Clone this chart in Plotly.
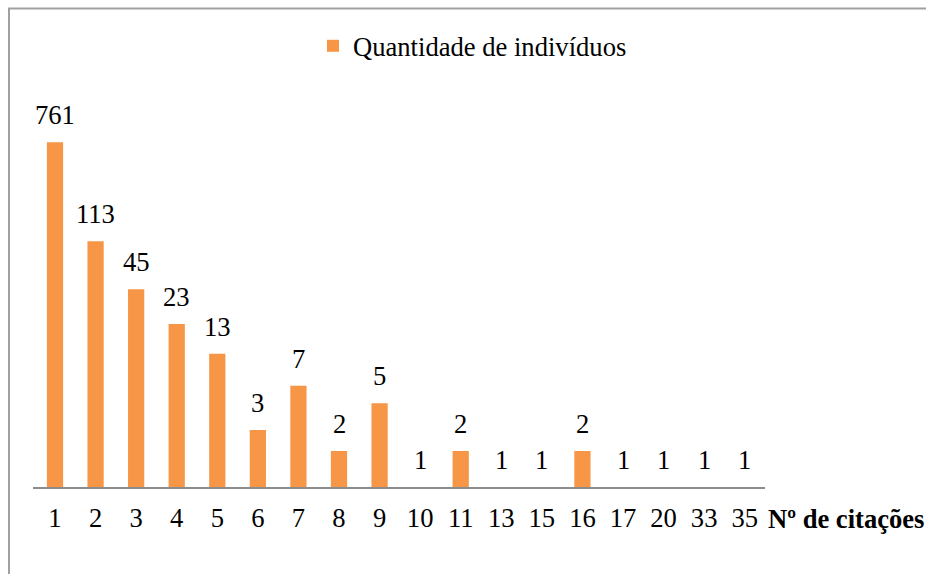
import math
import plotly.graph_objects as go

categories = ["1", "2", "3", "4", "5", "6", "7", "8", "9", "10", "11", "13", "15", "16", "17", "20", "33", "35"]
values = [761, 113, 45, 23, 13, 3, 7, 2, 5, 1, 2, 1, 1, 2, 1, 1, 1, 1]
series_name = "Quantidade de indivíduos"
x_title = "Nº de citações"

W, H = 926, 574
L, R, T, B = 33, 161, 128, 87
pw, ph = W - L - R, H - T - B
FONT = "Liberation Serif"
FS = 26.6

fig = go.Figure()
fig.add_trace(go.Bar(x=categories, y=values, name=series_name,
                     marker=dict(color="#F79646", line=dict(width=0))))

for i, v in enumerate(values):
    fig.add_annotation(x=i, y=math.log10(v), text=str(v), showarrow=False,
                       xref="x", yref="y", yanchor="bottom", yshift=10,
                       font=dict(family=FONT, size=FS, color="#000000"))

def px(xs):
    return (xs - L) / pw

def py(ys):
    return (T + ph - ys) / ph

fig.add_annotation(x=px(766), y=py(519), xref="paper", yref="paper",
                   text="<b>" + x_title + "</b>", showarrow=False,
                   xanchor="left", yanchor="middle",
                   font=dict(family=FONT, size=FS, color="#000000"))

line_style = dict(color="#A0A0A0", width=2)
fig.add_shape(type="line", xref="paper", yref="paper", x0=px(9), x1=px(9), y0=py(8.5), y1=py(580), line=line_style)
fig.add_shape(type="line", xref="paper", yref="paper", x0=px(8), x1=px(930), y0=py(8.5), y1=py(8.5), line=line_style)

fig.update_layout(
    width=W, height=H,
    margin=dict(l=L, r=R, t=T, b=B),
    paper_bgcolor="white", plot_bgcolor="white",
    bargap=0.6,
    font=dict(family=FONT, size=FS, color="#000000"),
    showlegend=True,
    legend=dict(orientation="h", x=px(313), y=py(46), xanchor="left", yanchor="middle",
                font=dict(family=FONT, size=FS, color="#000000"),
                itemwidth=30, bgcolor="rgba(0,0,0,0)"),
    xaxis=dict(type="category", showline=True, linecolor="#8C8C8C", linewidth=2,
               showgrid=False, ticks="", ticklabelstandoff=6,
               tickmode="array", tickvals=categories, ticktext=categories,
               tickfont=dict(family=FONT, size=FS, color="#000000")),
    yaxis=dict(type="log", range=[0, 3], visible=False, showgrid=False),
)

fig.write_html("out.html", config={"displayModeBar": False},
               post_script="document.body.style.margin='0';document.body.style.overflow='hidden';")
